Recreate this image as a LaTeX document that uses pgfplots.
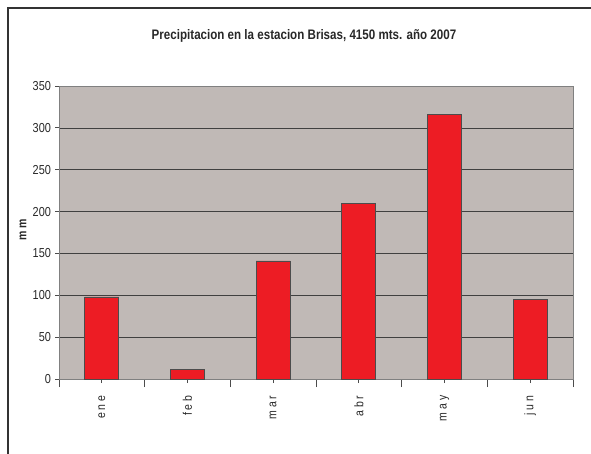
\documentclass[border=0pt]{standalone}
\usepackage{pgfplots}
\pgfplotsset{compat=1.18}
\usepackage{fontspec}
\setmainfont{Liberation Sans}[FakeStretch=0.84]
\definecolor{plotbg}{RGB}{192,185,182}
\definecolor{barred}{RGB}{237,28,36}
\definecolor{txt}{RGB}{40,40,40}
\begin{document}
\begin{tikzpicture}[x=1pt,y=1pt]
\useasboundingbox (0,0) rectangle (591,-454);
\draw[line width=1.2pt, color=black!80] (8,-454) -- (8,-8) -- (591,-8);
\node[font=\bfseries\fontsize{13.8}{16}\selectfont, text=txt] at (304,-36) {Precipitacion en la estacion Brisas, 4150 mts. año 2007};
\begin{axis}[
  at={(59pt,-379pt)}, anchor=south west,
  scale only axis, width=514pt, height=293pt,
  xmin=-0.5, xmax=5.5, ymin=0, ymax=350,
  axis background/.style={fill=plotbg},
  axis line style={color=black!50, line width=0.8pt},
  ytick={0,50,...,350},
  ymajorgrids, grid style={color=black!75, line width=0.7pt},
  xtick={0,1,2,3,4,5},
  xticklabels={e n e, f e b, m a r, a b r, m a y, j u n},
  minor xtick={-0.5,0.5,1.5,2.5,3.5,4.5,5.5},
  xtick pos=bottom, ytick pos=left,
  tick align=outside,
  major tick style={color=black!70, line width=0.8pt},
  minor tick style={color=black!70, line width=0.8pt},
  major tick length=4pt,
  minor tick length=8pt,
  ticklabel style={font=\fontsize{13}{15}\selectfont, text=txt},
  yticklabel style={xshift=-0.5pt},
  xticklabel style={font=\fontsize{12.5}{14}\selectfont, text=txt, rotate=90, anchor=east},
  xticklabel shift=9pt,
  ylabel={m m},
  ylabel style={font=\bfseries\fontsize{12.5}{14}\selectfont, text=txt, at={(axis description cs:-0.07,0.51)}, anchor=center, rotate=0},
  /pgf/number format/assume math mode=true,
]
\addplot[ybar, bar width=34pt, fill=barred, draw=black!70, line width=0.8pt] coordinates {
  (0,98) (1,11) (2,141) (3,210) (4,316) (5,95)
};
\end{axis}
\end{tikzpicture}
\end{document}
